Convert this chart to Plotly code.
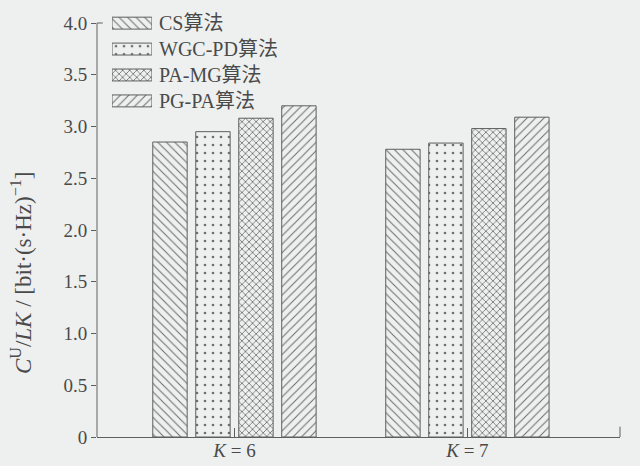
import plotly.graph_objects as go

# ---- data ----
groups = ["K=6", "K=7"]
group_labels = ["<i>K</i> = 6", "<i>K</i> = 7"]
algorithms = ["CS算法", "WGC-PD算法", "PA-MG算法", "PG-PA算法"]
cs_vals = [2.85, 2.78]
wgc_vals = [2.95, 2.84]
pamg_vals = [3.08, 2.98]
pgpa_vals = [3.20, 3.09]
y_ticks = [0, 0.5, 1.0, 1.5, 2.0, 2.5, 3.0, 3.5, 4.0]
y_ticktext = ["0", "0.5", "1.0", "1.5", "2.0", "2.5", "3.0", "3.5", "4.0"]

series = [cs_vals, wgc_vals, pamg_vals, pgpa_vals]
patterns = [
    dict(shape="\\", size=6, solidity=0.18),
    dict(shape=".", size=8, solidity=0.09),
    dict(shape="x", size=5, solidity=0.3),
    dict(shape="/", size=6, solidity=0.18),
]

BG = "#eef0ef"
INK = "#5e5e5e"
TXT = "#4a4a4a"
SERIF = "Liberation Serif, Times New Roman, Noto Sans CJK SC, serif"

fig = go.Figure()
xpos = list(range(len(groups)))
for name, vals, pat in zip(algorithms, series, patterns):
    fig.add_trace(go.Bar(
        x=xpos, y=vals, name=name, showlegend=False,
        marker=dict(color=BG, line=dict(color=INK, width=1),
                    pattern=dict(fgcolor="#6f6f6f", bgcolor=BG, fillmode="replace", **pat)),
        xaxis="x", yaxis="y",
    ))

# custom legend swatches (horizontal bars on a small auxiliary axis)
legend_len = [1] * len(algorithms)
fig.add_trace(go.Bar(
    x=legend_len, y=list(range(len(algorithms))), orientation="h", width=0.46,
    showlegend=False, xaxis="x2", yaxis="y2",
    marker=dict(color=BG, line=dict(color=INK, width=1),
                pattern=dict(shape=[p["shape"] for p in patterns],
                             size=[p["size"] for p in patterns],
                             solidity=[p["solidity"] for p in patterns],
                             fgcolor="#6f6f6f", bgcolor=BG, fillmode="replace")),
))

annotations = []
for i, name in enumerate(algorithms):
    annotations.append(dict(
        x=1, y=i, xref="x2", yref="y2", text=name, showarrow=False,
        xanchor="left", yanchor="middle", xshift=5,
        font=dict(family=SERIF, size=20, color=TXT),
    ))

annotations.append(dict(
    x=-0.143, y=0.38, xref="paper", yref="paper", textangle=-90,
    text="<i>C</i><sup>U</sup>/<i>LK</i> / [bit·(s·Hz)<sup>−1</sup>]",
    showarrow=False, xanchor="center", yanchor="middle",
    font=dict(family=SERIF, size=23, color=TXT),
))

shapes = [
    # y axis line up to 4.0
    dict(type="line", xref="paper", yref="y", x0=0, x1=0, y0=0, y1=4.0,
         line=dict(color=INK, width=1)),
    # small cap at top of y axis
    dict(type="line", xref="paper", yref="y", x0=0, x1=0.011, y0=4.0, y1=4.0,
         line=dict(color=INK, width=1)),
    # right-end tick of x axis
    dict(type="line", xref="paper", yref="y", x0=1, x1=1, y0=0, y1=0.1,
         line=dict(color=INK, width=1)),
]

fig.update_layout(
    width=640, height=466,
    margin=dict(l=97, r=20, t=5, b=29),
    paper_bgcolor=BG, plot_bgcolor=BG,
    barmode="group", bargap=0.262, bargroupgap=0.2,
    font=dict(family=SERIF, size=19, color=TXT),
    xaxis=dict(range=[-0.59, 1.655], tickvals=xpos, ticktext=group_labels,
               ticks="inside", ticklen=9, tickcolor=INK, showline=True,
               linecolor=INK, linewidth=1, showgrid=False, zeroline=False,
               ticklabelstandoff=-4,
               tickfont=dict(family=SERIF, size=19, color=TXT)),
    yaxis=dict(range=[0, 432 / 103.5], tickvals=y_ticks, ticktext=y_ticktext,
               ticks="outside", ticklen=5, tickcolor=INK, showline=False,
               showgrid=False, zeroline=False,
               tickfont=dict(family=SERIF, size=19, color=TXT)),
    xaxis2=dict(domain=[0.0287, 0.105], range=[0, 1], anchor="y2",
                visible=False, fixedrange=True),
    yaxis2=dict(domain=[0.748, 0.988], range=[3.5, -0.5], anchor="x2",
                visible=False, fixedrange=True),
    annotations=annotations,
    shapes=shapes,
)

fig.write_html("out.html", config={"displayModeBar": False},
               post_script="document.body.style.margin='0';")
